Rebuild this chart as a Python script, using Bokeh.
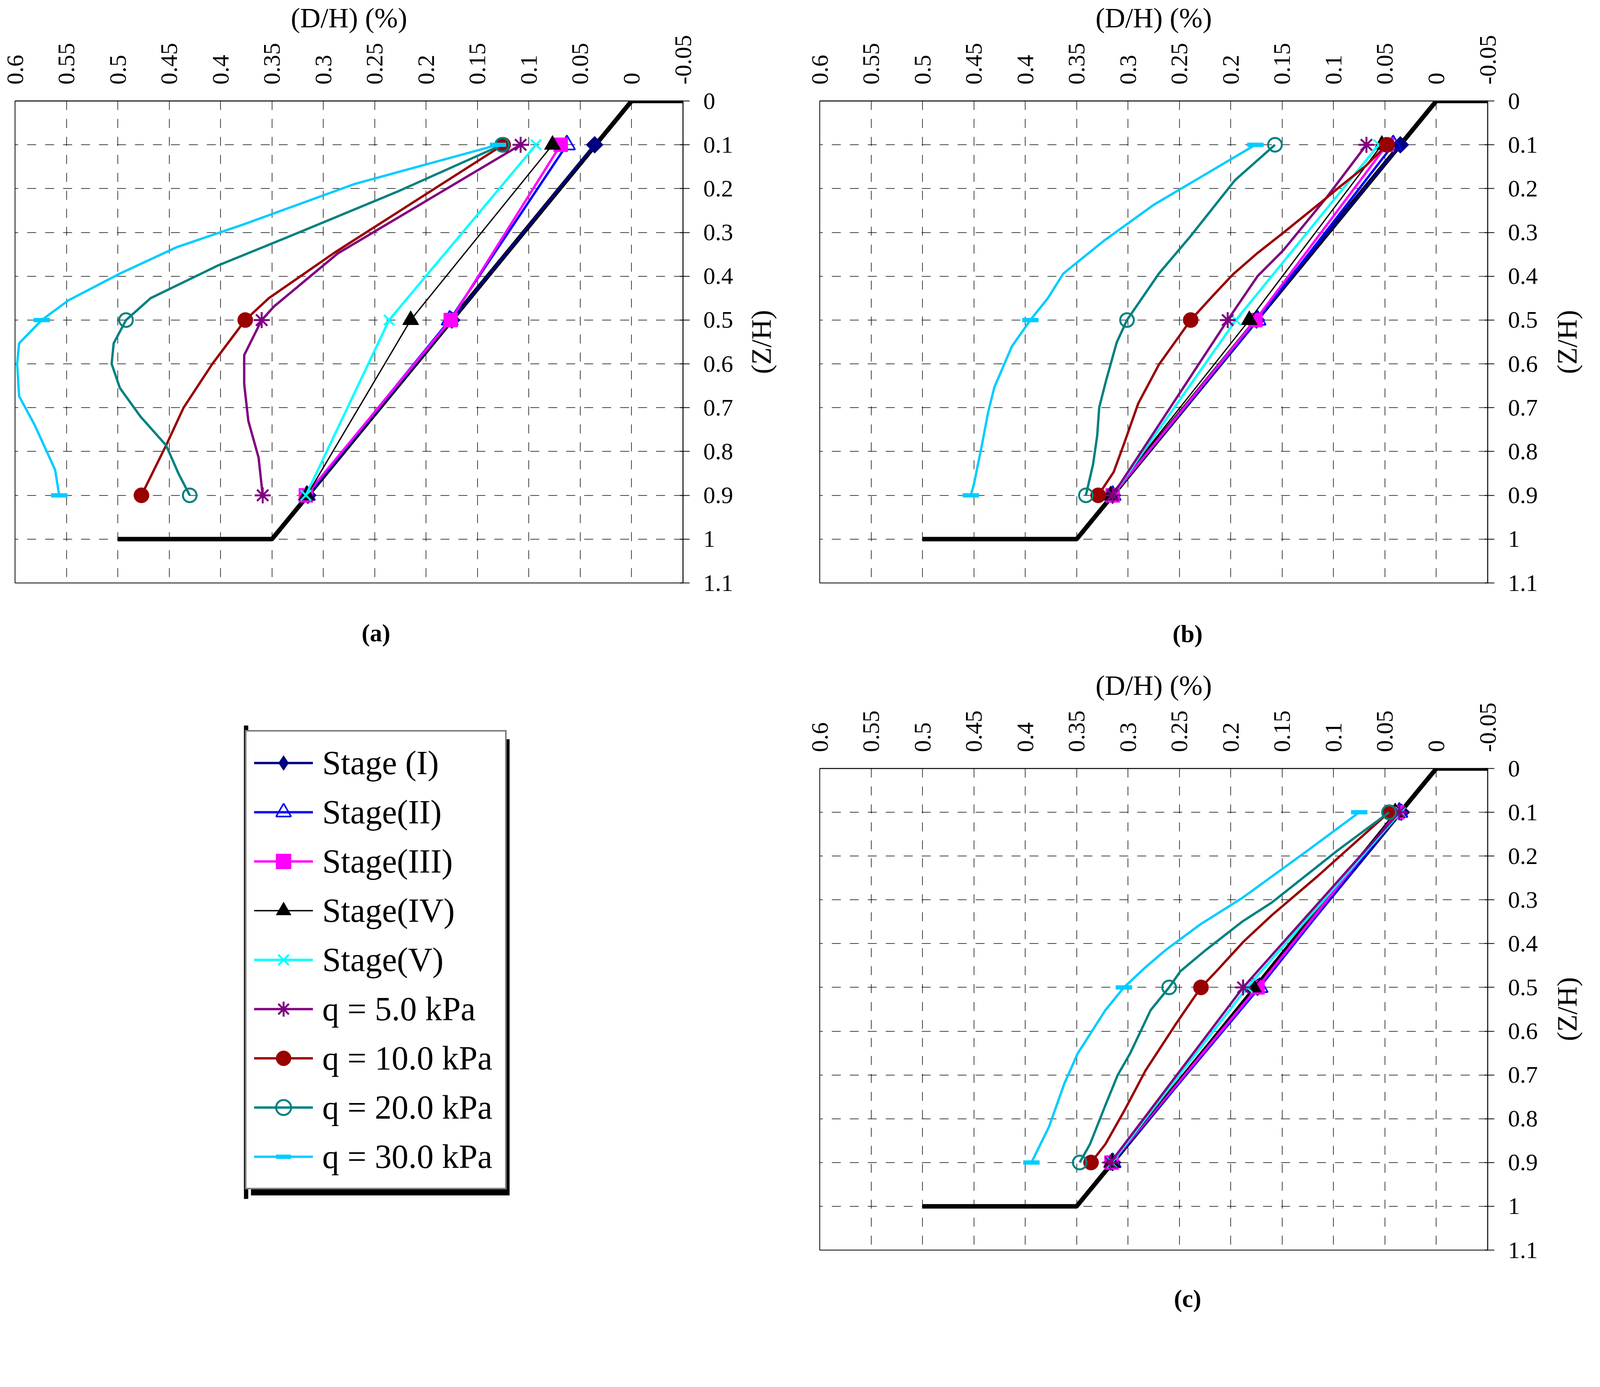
import math
from bokeh.plotting import figure
from bokeh.models import Range1d, FixedTicker, Legend, LegendItem, BoxAnnotation, Label, Spacer
from bokeh.layouts import column, row
from bokeh.embed import file_html
from bokeh.resources import INLINE

FONT = "Liberation Serif"
NAN = float("nan")

# ---------------- data ----------------
Z_MARK = [0.1, 0.5, 0.9]

WALL_X = [-0.05, 0.0, 0.35, 0.5]
WALL_Z = [0.0, 0.0, 1.0, 1.0]

X_TICKS = [0.6, 0.55, 0.5, 0.45, 0.4, 0.35, 0.3, 0.25, 0.2, 0.15, 0.1, 0.05, 0.0, -0.05]
X_TICK_LABELS = ["0.6", "0.55", "0.5", "0.45", "0.4", "0.35", "0.3", "0.25", "0.2",
                 "0.15", "0.1", "0.05", "0", "-0.05"]
Z_TICKS = [0.0, 0.1, 0.2, 0.3, 0.4, 0.5, 0.6, 0.7, 0.8, 0.9, 1.0, 1.1]
Z_TICK_LABELS = ["0", "0.1", "0.2", "0.3", "0.4", "0.5", "0.6", "0.7", "0.8", "0.9", "1", "1.1"]

SERIES = ["Stage (I)", "Stage(II)", "Stage(III)", "Stage(IV)", "Stage(V)",
          "q = 5.0 kPa", "q = 10.0 kPa", "q = 20.0 kPa", "q = 30.0 kPa"]

# panel (a): D/H at Z/H = 0.1, 0.5, 0.9
A_S1 = [0.036, 0.175, 0.315]
A_S2 = [0.063, 0.177, 0.316]
A_S3 = [0.069, 0.176, 0.317]
A_S4 = [0.077, 0.215, 0.316]
A_S5 = [0.093, 0.236, 0.317]
A_Q5 = [0.108, 0.360, 0.359]
A_Q10 = [0.125, 0.376, 0.477]
A_Q20 = [0.126, 0.492, 0.430]
A_Q30 = [0.130, 0.574, 0.557]
# smoothed curve paths
A_Q5_CZ = [0.1, 0.348, 0.469, 0.5, 0.58, 0.646, 0.73, 0.814, 0.9]
A_Q5_CX = [0.108, 0.286, 0.348, 0.360, 0.377, 0.377, 0.373, 0.363, 0.359]
A_Q10_CZ = [0.1, 0.346, 0.45, 0.5, 0.6, 0.70, 0.786, 0.9]
A_Q10_CX = [0.125, 0.289, 0.353, 0.376, 0.408, 0.436, 0.453, 0.477]
A_Q20_CZ = [0.1, 0.208, 0.31, 0.376, 0.45, 0.5, 0.553, 0.6, 0.655, 0.72, 0.786, 0.85, 0.9]
A_Q20_CX = [0.126, 0.229, 0.334, 0.403, 0.468, 0.492, 0.504, 0.506, 0.498, 0.478, 0.453, 0.441, 0.430]
A_Q30_CZ = [0.1, 0.189, 0.282, 0.334, 0.394, 0.455, 0.5, 0.553, 0.6, 0.674, 0.739, 0.842, 0.9]
A_Q30_CX = [0.130, 0.269, 0.378, 0.443, 0.498, 0.548, 0.574, 0.596, 0.598, 0.596, 0.581, 0.561, 0.557]

# panel (b)
B_S1 = [0.035, 0.175, 0.315]
B_S2 = [0.042, 0.174, 0.315]
B_S3 = [0.048, 0.176, 0.315]
B_S4 = [0.053, 0.182, 0.317]
B_S5 = [0.056, 0.195, 0.315]
B_Q5 = [0.068, 0.203, 0.315]
B_Q10 = [0.048, 0.239, 0.329]
B_Q20 = [0.157, 0.301, 0.341]
B_Q30 = [0.176, 0.395, 0.453]
B_Q5_CZ = [0.1, 0.221, 0.341, 0.4, 0.5, 0.9]
B_Q5_CX = [0.068, 0.107, 0.149, 0.174, 0.203, 0.315]
B_Q10_CZ = [0.1, 0.149, 0.196, 0.231, 0.301, 0.347, 0.396, 0.446, 0.5, 0.602, 0.69, 0.783, 0.847, 0.9]
B_Q10_CX = [0.048, 0.069, 0.094, 0.112, 0.149, 0.174, 0.198, 0.218, 0.239, 0.270, 0.290, 0.304, 0.314, 0.329]
B_Q20_CZ = [0.1, 0.181, 0.311, 0.394, 0.459, 0.5, 0.551, 0.635, 0.699, 0.764, 0.829, 0.9]
B_Q20_CX = [0.157, 0.196, 0.240, 0.270, 0.289, 0.301, 0.311, 0.321, 0.328, 0.330, 0.334, 0.341]
B_Q30_CZ = [0.1, 0.154, 0.237, 0.32, 0.394, 0.45, 0.5, 0.56, 0.653, 0.709, 0.783, 0.875, 0.9]
B_Q30_CX = [0.176, 0.215, 0.275, 0.324, 0.363, 0.378, 0.395, 0.413, 0.430, 0.436, 0.442, 0.450, 0.453]

# panel (c)
C_S1 = [0.034, 0.174, 0.315]
C_S2 = [0.036, 0.172, 0.315]
C_S3 = [0.038, 0.174, 0.316]
C_S4 = [0.040, 0.178, 0.316]
C_S5 = [0.035, 0.184, 0.316]
C_Q5 = [0.036, 0.188, 0.317]
C_Q10 = [0.046, 0.229, 0.336]
C_Q20 = [0.046, 0.260, 0.347]
C_Q30 = [0.075, 0.304, 0.394]
C_Q10_CZ = [0.1, 0.247, 0.335, 0.394, 0.463, 0.5, 0.582, 0.69, 0.779, 0.858, 0.9]
C_Q10_CX = [0.046, 0.116, 0.160, 0.187, 0.214, 0.229, 0.253, 0.283, 0.303, 0.322, 0.336]
C_Q20_CZ = [0.1, 0.187, 0.306, 0.35, 0.414, 0.463, 0.5, 0.552, 0.651, 0.70, 0.769, 0.858, 0.9]
C_Q20_CX = [0.046, 0.096, 0.160, 0.189, 0.224, 0.249, 0.260, 0.278, 0.298, 0.310, 0.322, 0.337, 0.347]
C_Q30_CZ = [0.1, 0.187, 0.296, 0.355, 0.414, 0.454, 0.5, 0.552, 0.651, 0.72, 0.819, 0.9]
C_Q30_CX = [0.075, 0.125, 0.189, 0.229, 0.263, 0.283, 0.304, 0.322, 0.349, 0.362, 0.377, 0.394]

# ---------------- styles ----------------
STYLE = {
    "Stage (I)":    dict(color="#000080", lw=6, marker="square", leg="diamond", angle=math.pi / 4, size=31, fill="#000080", mlw=1),
    "Stage(II)":    dict(color="#0000FF", lw=6, marker="triangle", leg="triangle", angle=0, size=42, fill=None, mlw=4),
    "Stage(III)":   dict(color="#FF00FF", lw=6, marker="square", leg="square", angle=0, size=36, fill="#FF00FF", mlw=1),
    "Stage(IV)":    dict(color="#000000", lw=3.3, marker="triangle", leg="triangle", angle=0, size=42, fill="#000000", mlw=1),
    "Stage(V)":     dict(color="#00FFFF", lw=6, marker="x", leg="x", angle=0, size=37, fill=None, mlw=5),
    "q = 5.0 kPa":  dict(color="#800080", lw=6, marker="asterisk", leg="asterisk", angle=0, size=41, fill=None, mlw=5),
    "q = 10.0 kPa": dict(color="#990000", lw=6, marker="circle", leg="circle", angle=0, size=39, fill="#990000", mlw=1),
    "q = 20.0 kPa": dict(color="#008080", lw=6, marker="circle", leg="circle", angle=0, size=35, fill=None, mlw=5),
    "q = 30.0 kPa": dict(color="#00CCFF", lw=6, marker="dash", leg="dash", angle=0, size=42, fill=None, mlw=11),
}

# layout (CSS px)
FRAME_W, FRAME_H = 1710, 1234
LEFT_A, LEFT_B, RIGHT = 38, 42, 150
WA = LEFT_A + FRAME_W + RIGHT
WB = LEFT_B + FRAME_W + RIGHT
ZA, ZB = 158, 120            # strips holding the rotated (Z/H) titles
TOP_AB, TOP_C, BOTTOM = 258, 254, 40
PAGE_H = 3377


def draw_series(p, name, cx, cz, mx, mz, legend=False):
    st = STYLE[name]
    lr = p.line(cx, cz, line_color=st["color"], line_width=st["lw"])
    sr = p.scatter(mx, mz, marker=st["leg"] if legend else st["marker"],
                   angle=0 if legend else st["angle"], size=st["size"],
                   line_color=st["color"], line_width=st["mlw"],
                   fill_color=st["fill"], fill_alpha=1 if st["fill"] else 0)
    return lr, sr


def make_panel(width, left, top, data):
    p = figure(width=width, height=top + FRAME_H + BOTTOM,
               x_range=Range1d(0.6, -0.05), y_range=Range1d(1.1, 0.0),
               x_axis_location="above", y_axis_location="right",
               tools="", toolbar_location=None, output_backend="svg",
               min_border_left=left, min_border_right=RIGHT,
               min_border_top=top, min_border_bottom=BOTTOM)
    p.background_fill_color = "white"
    p.border_fill_color = "white"
    p.outline_line_color = "black"
    p.outline_line_width = 2

    xa = p.xaxis[0]
    xa.ticker = FixedTicker(ticks=X_TICKS)
    xa.major_label_overrides = dict(zip(X_TICKS, X_TICK_LABELS))
    xa.major_label_orientation = math.pi / 2
    xa.major_tick_in = 0
    xa.major_tick_out = 0
    xa.minor_tick_in = 0
    xa.minor_tick_out = 0
    xa.major_label_standoff = 42
    xa.major_label_text_font = FONT
    xa.major_label_text_font_size = "61px"
    xa.major_label_text_color = "black"
    xa.axis_label = "(D/H) (%)"
    xa.axis_label_text_font = FONT
    xa.axis_label_text_font_size = "72px"
    xa.axis_label_text_font_style = "normal"
    xa.axis_label_text_color = "black"
    xa.axis_label_standoff = 0
    xa.axis_line_color = "black"
    xa.axis_line_width = 2

    ya = p.yaxis[0]
    ya.ticker = FixedTicker(ticks=Z_TICKS)
    ya.major_label_overrides = dict(zip(Z_TICKS, Z_TICK_LABELS))
    ya.major_tick_in = 8
    ya.major_tick_out = 17
    ya.major_tick_line_width = 2
    ya.minor_tick_in = 0
    ya.minor_tick_out = 0
    ya.major_label_standoff = 35
    ya.major_label_text_font = FONT
    ya.major_label_text_font_size = "61px"
    ya.major_label_text_color = "black"
    ya.axis_line_color = "black"
    ya.axis_line_width = 2

    p.xgrid.ticker = FixedTicker(ticks=X_TICKS)
    p.ygrid.ticker = FixedTicker(ticks=Z_TICKS)
    p.grid.grid_line_color = "black"
    p.grid.grid_line_width = 1.5
    p.grid.grid_line_dash = "23 23"

    p.line(WALL_X, WALL_Z, line_color="black", line_width=11.5)
    for name in SERIES:
        cx, cz, mx = data[name]
        draw_series(p, name, cx, cz, mx, Z_MARK)
    return p


def blank(width, height, left, right, x_range, y_range, top=0, bottom=0):
    p = figure(width=width, height=height, x_range=x_range, y_range=y_range,
               x_axis_type=None, y_axis_type=None, tools="", toolbar_location=None,
               output_backend="svg", min_border_left=left, min_border_right=right,
               min_border_top=top, min_border_bottom=bottom)
    p.outline_line_color = None
    p.background_fill_color = "white"
    p.border_fill_color = "white"
    return p


def caption(p, text, x, y):
    p.add_layout(Label(x=x, y=y, text=text, text_align="center", text_baseline="middle",
                       text_font=FONT, text_font_size="63px", text_font_style="bold",
                       text_color="black"))


def z_title(width, top, xc):
    # vertical axis title, read bottom-to-top, centred on the panel frame
    p = blank(width, top + FRAME_H + BOTTOM, 0, 0, Range1d(0, width), Range1d(1.1, 0.0),
              top=top, bottom=BOTTOM)
    p.add_layout(Label(x=xc, y=0.55, text="(Z/H)", angle=math.pi / 2,
                       text_align="center", text_baseline="middle",
                       text_font=FONT, text_font_size="72px", text_color="black"))
    return p


def stage(vals):
    return (vals, Z_MARK, vals)


data_a = {
    "Stage (I)": stage(A_S1), "Stage(II)": stage(A_S2), "Stage(III)": stage(A_S3),
    "Stage(IV)": stage(A_S4), "Stage(V)": stage(A_S5),
    "q = 5.0 kPa": (A_Q5_CX, A_Q5_CZ, A_Q5),
    "q = 10.0 kPa": (A_Q10_CX, A_Q10_CZ, A_Q10),
    "q = 20.0 kPa": (A_Q20_CX, A_Q20_CZ, A_Q20),
    "q = 30.0 kPa": (A_Q30_CX, A_Q30_CZ, A_Q30),
}
data_b = {
    "Stage (I)": stage(B_S1), "Stage(II)": stage(B_S2), "Stage(III)": stage(B_S3),
    "Stage(IV)": stage(B_S4), "Stage(V)": stage(B_S5),
    "q = 5.0 kPa": (B_Q5_CX, B_Q5_CZ, B_Q5),
    "q = 10.0 kPa": (B_Q10_CX, B_Q10_CZ, B_Q10),
    "q = 20.0 kPa": (B_Q20_CX, B_Q20_CZ, B_Q20),
    "q = 30.0 kPa": (B_Q30_CX, B_Q30_CZ, B_Q30),
}
data_c = {
    "Stage (I)": stage(C_S1), "Stage(II)": stage(C_S2), "Stage(III)": stage(C_S3),
    "Stage(IV)": stage(C_S4), "Stage(V)": stage(C_S5),
    "q = 5.0 kPa": stage(C_Q5),
    "q = 10.0 kPa": (C_Q10_CX, C_Q10_CZ, C_Q10),
    "q = 20.0 kPa": (C_Q20_CX, C_Q20_CZ, C_Q20),
    "q = 30.0 kPa": (C_Q30_CX, C_Q30_CZ, C_Q30),
}

pa = make_panel(WA, LEFT_A, TOP_AB, data_a)
pb = make_panel(WB, LEFT_B, TOP_AB, data_b)
pc = make_panel(WB, LEFT_B, TOP_C, data_c)

H_TOP = TOP_AB + FRAME_H + BOTTOM
H_CAPB = 180
H_C = TOP_C + FRAME_H + BOTTOM
H_CAPC = PAGE_H - H_TOP - H_CAPB - H_C
H_LEG = PAGE_H - H_TOP

za = z_title(ZA, TOP_AB, 50)
zb = z_title(ZB, TOP_AB, 53)
zc = z_title(ZB, TOP_C, 53)

# caption strips under (b) and (c)
cap_b = blank(WB, H_CAPB, LEFT_B, RIGHT, Range1d(0.6, -0.05), Range1d(H_CAPB, 0))
caption(cap_b, "(b)", 0.242, 90)
cap_c = blank(WB, H_CAPC, LEFT_B, RIGHT, Range1d(0.6, -0.05), Range1d(H_CAPC, 0))
caption(cap_c, "(c)", 0.242, 84)

# legend panel with "(a)" caption (pixel-scaled blank figure)
pl = blank(WA, H_LEG, LEFT_A, RIGHT, Range1d(0, FRAME_W), Range1d(H_LEG, 0))
caption(pl, "(a)", 924, 88)

LEG_X, LEG_TOP, LEG_W, LEG_H = 589, 345, 662, 1168
pl.add_layout(BoxAnnotation(left=LEG_X + 15, right=LEG_X + LEG_W + 15,
                            top=LEG_TOP + 15, bottom=LEG_TOP + LEG_H + 15,
                            fill_color="black", fill_alpha=1, line_color=None))
pl.add_layout(BoxAnnotation(left=LEG_X - 3, right=LEG_X + 8,
                            top=LEG_TOP - 20, bottom=LEG_TOP + LEG_H + 24,
                            fill_color="black", fill_alpha=1, line_color=None))

items = []
for name in SERIES:
    lr, sr = draw_series(pl, name, [NAN], [NAN], [NAN], [NAN], legend=True)
    items.append(LegendItem(label=name, renderers=[lr, sr]))

legend = Legend(items=items, location=(LEG_X, H_LEG - LEG_TOP - LEG_H),
                glyph_width=151, glyph_height=96, label_height=122, label_width=449,
                label_standoff=24, spacing=4, padding=19, margin=0,
                border_line_color="black", border_line_width=4,
                background_fill_color="white", background_fill_alpha=1,
                label_text_font=FONT, label_text_font_size="86px", label_text_color="black")
pl.add_layout(legend, "center")

layout = row(column(pa, pl), column(za),
             column(pb, cap_b, pc, cap_c), column(zb, Spacer(width=ZB, height=H_CAPB), zc))

open("out.html", "w").write(file_html(layout, INLINE))
